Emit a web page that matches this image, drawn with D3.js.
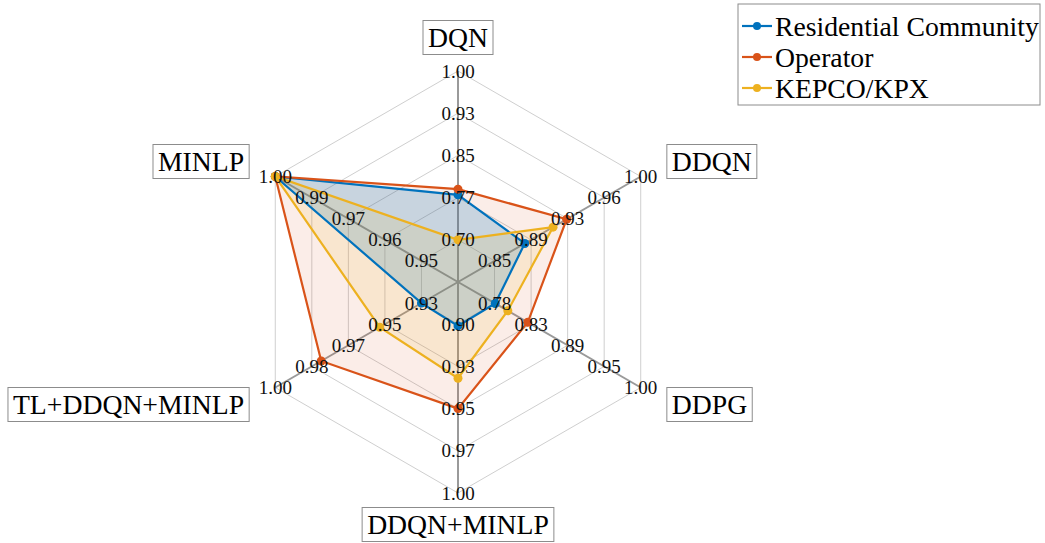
<!DOCTYPE html>
<html>
<head>
<meta charset="utf-8">
<script src="https://cdn.jsdelivr.net/npm/d3@7"></script>
<style>
html,body{margin:0;padding:0;background:#fff;}
</style>
</head>
<body>
<svg id="chart" width="1045" height="543" font-family="'Liberation Serif', 'Times New Roman', Times, serif"></svg>
<script>
// ---- data ----
const axesNames = ["DQN", "DDQN", "DDPG", "DDQN+MINLP", "TL+DDQN+MINLP", "MINLP"];
const axisMin = [0.625, 0.8125, 0.725, 0.875, 0.9125, 0.9375];
const axisMax = [1.00, 1.00, 1.00, 1.00, 1.00, 1.00];
const tickLabels = [
  ["0.70", "0.77", "0.85", "0.93", "1.00"],
  ["0.85", "0.89", "0.93", "0.96", "1.00"],
  ["0.78", "0.83", "0.89", "0.95", "1.00"],
  ["0.90", "0.93", "0.95", "0.97", "1.00"],
  ["0.93", "0.95", "0.97", "0.98", "1.00"],
  ["0.95", "0.96", "0.97", "0.99", "1.00"]
];
const seriesNames = ["Residential Community", "Operator", "KEPCO/KPX"];
const residential = [0.78, 0.881, 0.781, 0.901, 0.93, 1.00];
const operator    = [0.79, 0.924, 0.83, 0.95, 0.978, 1.00];
const kepco       = [0.70, 0.91, 0.80, 0.932, 0.95, 1.00];
const colors = ["#0072BD", "#D95319", "#EDB120"];
const fillOpacity = [0.2, 0.1, 0.12];

// ---- layout ----
const FONT = "'Liberation Serif', 'Times New Roman', Times, serif";
const svg = d3.select("#chart");
const cx = 458, cy = 282, R = 211;
const nLevels = 5;
const angles = axesNames.map((d, i) => Math.PI / 2 - i * Math.PI / 3); // DQN at top, clockwise
const rScale = d3.scaleLinear().domain([0, 1]).range([0, R]);
const valScales = axesNames.map((d, i) => d3.scaleLinear().domain([axisMin[i], axisMax[i]]).range([0, R]));
function pt(i, r) { return [cx + r * Math.cos(angles[i]), cy - r * Math.sin(angles[i])]; }

// grid rings
const gGrid = svg.append("g");
for (let l = 1; l <= nLevels; l++) {
  const r = rScale(l / nLevels);
  gGrid.append("polygon")
    .attr("points", axesNames.map((d, i) => pt(i, r).join(",")).join(" "))
    .attr("fill", "none").attr("stroke", "#cfcfcf").attr("stroke-width", 1);
}
// axis spokes
axesNames.forEach((d, i) => {
  const [x, y] = pt(i, R);
  gGrid.append("line").attr("x1", cx).attr("y1", cy).attr("x2", x).attr("y2", y)
    .attr("stroke", "#9a9a9a").attr("stroke-width", 2);
});

// series polygons
const allSeries = [residential, operator, kepco];
const gSeries = svg.append("g");
// fills: operator first, then residential, then kepco
[1, 0, 2].forEach(s => {
  const vals = allSeries[s];
  const pts = vals.map((v, i) => pt(i, valScales[i](v)));
  gSeries.append("polygon").attr("points", pts.map(p => p.join(",")).join(" "))
    .attr("fill", colors[s]).attr("fill-opacity", fillOpacity[s]).attr("stroke", "none");
});
allSeries.forEach((vals, s) => {
  const pts = vals.map((v, i) => pt(i, valScales[i](v)));
  gSeries.append("polygon").attr("points", pts.map(p => p.join(",")).join(" "))
    .attr("fill", "none").attr("stroke", colors[s]).attr("stroke-width", 2.2).attr("stroke-linejoin", "miter");
  gSeries.selectAll(null).data(pts).enter().append("circle")
    .attr("cx", p => p[0]).attr("cy", p => p[1]).attr("r", 4.5).attr("fill", colors[s]);
});

// tick labels
const gTicks = svg.append("g");
axesNames.forEach((d, i) => {
  tickLabels[i].forEach((t, k) => {
    const [x, y] = pt(i, rScale((k + 1) / nLevels));
    gTicks.append("text").attr("x", x).attr("y", y).attr("text-anchor", "middle")
      .attr("dominant-baseline", "central").attr("font-family", FONT)
      .attr("font-size", 19).attr("fill", "#111").text(t);
  });
});

// axis labels in boxes
const gLab = svg.append("g");
const labelR = 240;
axesNames.forEach((d, i) => {
  const a = angles[i];
  const cosA = Math.cos(a), sinA = Math.sin(a);
  const t = gLab.append("text").attr("font-family", FONT).attr("font-size", 27.7).attr("fill", "#000").text(d);
  let x, y, anchor;
  if (Math.abs(cosA) < 0.01) {
    anchor = "middle"; x = cx;
    y = sinA > 0 ? cy - 245 : cy + 242;
  } else {
    anchor = cosA > 0 ? "start" : "end";
    x = cx + labelR * cosA + (cosA > 0 ? 6 : -6);
    y = cy - labelR * sinA + (sinA > 0 ? -1 : 2);
  }
  t.attr("x", x).attr("y", y).attr("text-anchor", anchor).attr("dominant-baseline", "central");
  const bb = t.node().getBBox();
  gLab.insert("rect", () => t.node())
    .attr("x", bb.x - 5).attr("y", bb.y - 1).attr("width", bb.width + 10).attr("height", bb.height + 3)
    .attr("fill", "#fff").attr("stroke", "#8c8c8c").attr("stroke-width", 1);
});

// legend
const gLeg = svg.append("g");
const legX = 738, legY = 4, legW = 302, legH = 101;
gLeg.append("rect").attr("x", legX).attr("y", legY).attr("width", legW).attr("height", legH)
  .attr("fill", "#fff").attr("stroke", "#8c8c8c").attr("stroke-width", 1);
seriesNames.forEach((n, s) => {
  const y = 26 + s * 31;
  gLeg.append("line").attr("x1", 742).attr("x2", 772).attr("y1", y).attr("y2", y)
    .attr("stroke", colors[s]).attr("stroke-width", 2.2);
  gLeg.append("circle").attr("cx", 757).attr("cy", y).attr("r", 4).attr("fill", colors[s]);
  gLeg.append("text").attr("x", 775).attr("y", y).attr("dominant-baseline", "central")
    .attr("font-family", FONT).attr("font-size", 27.7).attr("fill", "#000").text(n);
});
</script>
</body>
</html>
